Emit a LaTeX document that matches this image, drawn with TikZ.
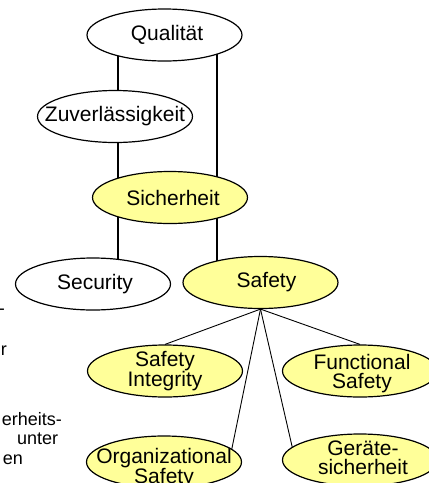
\documentclass[tikz,border=0pt]{standalone}
\usepackage{fontspec}
\setmainfont{Liberation Sans}
\usetikzlibrary{shapes.geometric,backgrounds}
\definecolor{paleyellow}{HTML}{FFFF99}
\tikzset{
  topic/.style={ellipse, draw=black, line width=1.2pt, fill=white,
    minimum width=155pt, minimum height=52pt, inner sep=0pt},
  hot/.style={topic, fill=paleyellow},
  lbl/.style={font=\fontsize{21}{19}\selectfont, align=center, inner sep=0pt},
  spine/.style={line width=1.6pt},
  branch/.style={line width=0.9pt},
  margintext/.style={font=\fontsize{18}{18}\selectfont, inner sep=0pt},
}
\begin{document}
\begin{tikzpicture}[x=1pt,y=-1pt]
\useasboundingbox (0,0) rectangle (429,483);
\clip (0,0) rectangle (429,483);

% concept hierarchy
\node[topic, label={[lbl,xshift=2.5pt]center:Qualität}] (qual) at (164.5,35) {};
\node[topic, label={[lbl]center:Zuverlässigkeit}] (zuv) at (115,116.5) {};
\node[hot, label={[lbl,xshift=3pt]center:Sicherheit}] (sich) at (170,197.5) {};
\node[topic, label={[lbl,xshift=2pt]center:Security}] (secu) at (93,284) {};
\node[hot, label={[lbl,xshift=6pt]center:Safety}] (safe) at (260.5,282.5) {};

% kinds of safety
\node[hot, label={[lbl]center:Safety\\Integrity}] (si) at (165,371) {};
\node[hot, label={[lbl,xshift=2pt,yshift=-3pt]center:Functional\\Safety}] (fs) at (360,371) {};
\node[hot, label={[lbl,yshift=-6pt]center:Organizational\\Safety}] (org) at (164,462) {};
\node[hot, label={[lbl,xshift=3pt,yshift=2pt]center:Geräte-\\sicherheit}] (ger) at (360,460) {};

% fragments of the neighbouring text column
\node[margintext, anchor=base east] (m1) at (5,314) {-};
\node[margintext, anchor=base east] (m2) at (7,355) {r};
\node[margintext, anchor=base east] (m3) at (62,425) {erheits-};
\node[margintext, anchor=base west] (m4) at (17,444) {unter};
\node[margintext, anchor=base east] (m5) at (23,464) {en};

% branches from Safety
\draw[branch] (safe.south) -- (si.north);
\draw[branch] (safe.south) -- (fs.north);
\draw[branch] (safe.south) -- (org.11);
\draw[branch] (safe.south) -- (ger.169);

% vertical spines, hidden behind the filled ellipses
\coordinate (lx) at (118,0);
\coordinate (rx) at (217,0);
\begin{scope}[on background layer]
  \fill[white] (0,0) rectangle (429,483);
  \draw[spine] (qual.center -| lx) -- (secu.center -| lx);
  \draw[spine] (qual.center -| rx) -- (safe.center -| rx);
\end{scope}
\end{tikzpicture}
\end{document}
